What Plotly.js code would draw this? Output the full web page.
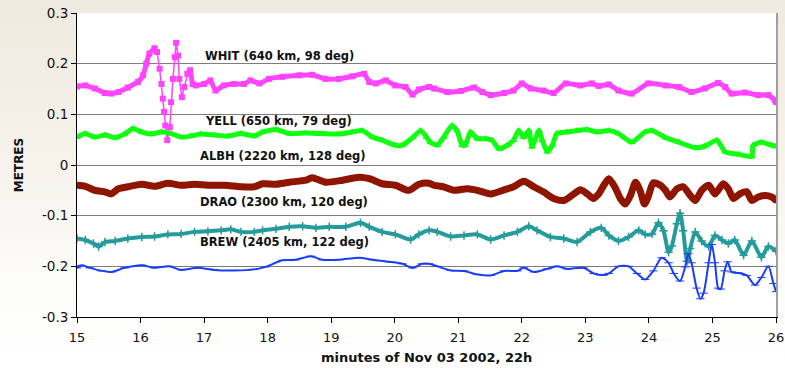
<!DOCTYPE html>
<html>
<head>
<meta charset="utf-8">
<script src="https://cdn.plot.ly/plotly-3.0.1.min.js"></script>
<style>
html,body{margin:0;padding:0;}
body{width:785px;height:368px;background:linear-gradient(to bottom,#efeadf 0%,#f6f3ec 45%,#fdfdfb 80%,#ffffff 100%);}
#chart{width:785px;height:368px;}
</style>
</head>
<body>
<div id="chart"></div>
<script>
// minutes of Nov 03 2002, 22h  /  displacement in metres
const whitT = [15.0,15.13,15.28,15.44,15.54,15.65,15.8,15.96,16.04,16.09,16.14,16.22,16.26,16.3,16.33,16.35,16.37,16.39,16.42,16.46,16.48,16.51,16.54,16.56,16.59,16.61,16.65,16.69,16.74,16.78,16.82,16.87,17.0,17.1,17.18,17.31,17.47,17.63,17.73,17.87,18.02,18.23,18.5,18.7,18.91,19.12,19.33,19.52,19.6,19.7,19.86,20.01,20.17,20.28,20.38,20.54,20.62,20.83,21.04,21.25,21.38,21.51,21.72,21.87,22.0,22.14,22.34,22.5,22.69,22.92,23.1,23.21,23.37,23.52,23.73,23.99,24.26,24.47,24.67,24.88,25.09,25.2,25.3,25.51,25.72,25.88,25.98,26.0];
const whitV = [0.155,0.157,0.151,0.142,0.141,0.144,0.153,0.164,0.177,0.2,0.22,0.23,0.223,0.19,0.16,0.131,0.105,0.078,0.049,0.075,0.124,0.17,0.213,0.241,0.216,0.17,0.134,0.154,0.18,0.187,0.16,0.157,0.16,0.167,0.147,0.157,0.16,0.16,0.167,0.161,0.17,0.174,0.177,0.178,0.17,0.17,0.175,0.18,0.164,0.161,0.167,0.157,0.154,0.139,0.149,0.154,0.151,0.144,0.146,0.153,0.144,0.138,0.142,0.147,0.161,0.151,0.147,0.142,0.161,0.157,0.161,0.156,0.159,0.147,0.141,0.161,0.157,0.154,0.144,0.151,0.162,0.154,0.141,0.143,0.138,0.138,0.128,0.124];

const yellT = [15.0,15.13,15.28,15.44,15.6,15.75,15.88,16.02,16.17,16.33,16.48,16.64,16.79,16.95,17.16,17.37,17.58,17.79,17.92,18.13,18.34,18.6,18.86,19.12,19.33,19.49,19.65,19.8,20.01,20.12,20.28,20.41,20.5,20.56,20.67,20.77,20.9,20.98,21.06,21.11,21.19,21.3,21.43,21.53,21.64,21.77,21.87,21.95,22.03,22.11,22.16,22.27,22.32,22.4,22.48,22.55,22.71,22.87,23.03,23.18,23.37,23.52,23.73,23.94,24.05,24.26,24.47,24.73,24.88,25.07,25.2,25.41,25.62,25.64,25.77,25.93,26.0];
const yellV = [0.055,0.062,0.055,0.059,0.054,0.061,0.072,0.065,0.061,0.065,0.062,0.055,0.057,0.061,0.059,0.057,0.062,0.057,0.065,0.07,0.062,0.063,0.062,0.061,0.065,0.068,0.055,0.049,0.039,0.039,0.054,0.068,0.055,0.045,0.039,0.055,0.078,0.068,0.039,0.039,0.065,0.052,0.052,0.049,0.032,0.039,0.049,0.068,0.055,0.068,0.036,0.068,0.049,0.026,0.039,0.062,0.065,0.068,0.07,0.065,0.068,0.062,0.045,0.065,0.068,0.054,0.045,0.034,0.037,0.049,0.026,0.021,0.017,0.039,0.045,0.039,0.037];

const albhT = [15.0,15.13,15.28,15.44,15.54,15.65,15.8,16.02,16.22,16.43,16.64,16.85,17.06,17.32,17.58,17.79,17.92,18.13,18.34,18.6,18.7,18.91,19.18,19.44,19.6,19.8,20.01,20.22,20.38,20.54,20.62,20.77,20.93,21.14,21.3,21.51,21.72,21.87,22.03,22.19,22.34,22.5,22.66,22.82,22.92,23.03,23.13,23.21,23.29,23.37,23.47,23.55,23.63,23.71,23.79,23.86,23.93,23.99,24.07,24.18,24.26,24.33,24.44,24.54,24.65,24.73,24.83,24.94,25.04,25.17,25.25,25.33,25.43,25.54,25.62,25.72,25.83,25.93,26.0];
const albhV = [-0.04,-0.042,-0.05,-0.053,-0.057,-0.047,-0.043,-0.038,-0.042,-0.036,-0.04,-0.038,-0.04,-0.04,-0.043,-0.043,-0.037,-0.038,-0.034,-0.03,-0.025,-0.034,-0.03,-0.024,-0.027,-0.037,-0.04,-0.05,-0.038,-0.036,-0.04,-0.043,-0.05,-0.047,-0.05,-0.057,-0.049,-0.043,-0.032,-0.043,-0.053,-0.066,-0.07,-0.057,-0.049,-0.057,-0.066,-0.057,-0.04,-0.027,-0.045,-0.066,-0.077,-0.06,-0.034,-0.05,-0.077,-0.062,-0.035,-0.04,-0.05,-0.063,-0.047,-0.043,-0.06,-0.07,-0.05,-0.04,-0.057,-0.037,-0.047,-0.066,-0.057,-0.053,-0.07,-0.063,-0.06,-0.063,-0.07];

const draoT = [15.0,15.13,15.26,15.34,15.44,15.6,15.8,16.02,16.22,16.43,16.64,16.85,17.06,17.27,17.42,17.58,17.79,17.92,18.13,18.34,18.55,18.76,18.97,19.23,19.46,19.6,19.8,20.01,20.25,20.38,20.54,20.67,20.88,21.09,21.3,21.51,21.72,21.93,22.11,22.24,22.45,22.66,22.87,23.08,23.25,23.37,23.52,23.68,23.84,23.94,24.05,24.15,24.23,24.31,24.36,24.44,24.49,24.54,24.6,24.65,24.73,24.83,24.94,25.04,25.15,25.25,25.35,25.49,25.62,25.77,25.88,26.0];
const draoV = [-0.145,-0.148,-0.155,-0.161,-0.152,-0.15,-0.145,-0.142,-0.141,-0.137,-0.136,-0.132,-0.131,-0.129,-0.127,-0.132,-0.132,-0.129,-0.126,-0.122,-0.121,-0.124,-0.122,-0.122,-0.114,-0.122,-0.132,-0.137,-0.147,-0.137,-0.129,-0.132,-0.141,-0.139,-0.137,-0.147,-0.139,-0.132,-0.121,-0.129,-0.142,-0.145,-0.152,-0.132,-0.124,-0.139,-0.15,-0.142,-0.129,-0.137,-0.136,-0.114,-0.13,-0.172,-0.16,-0.116,-0.095,-0.13,-0.19,-0.165,-0.132,-0.15,-0.161,-0.139,-0.148,-0.155,-0.148,-0.178,-0.15,-0.182,-0.161,-0.17];

const brewT = [15.0,15.07,15.2,15.39,15.54,15.75,16.02,16.22,16.45,16.64,16.9,17.16,17.47,17.79,17.97,18.23,18.44,18.68,18.86,19.12,19.44,19.65,19.91,20.12,20.28,20.43,20.54,20.67,20.88,21.09,21.3,21.51,21.72,21.93,22.03,22.19,22.4,22.55,22.71,22.97,23.13,23.29,23.37,23.52,23.68,23.81,23.94,24.07,24.2,24.31,24.39,24.49,24.57,24.62,24.67,24.75,24.81,24.86,24.94,24.99,25.04,25.09,25.13,25.19,25.24,25.3,25.41,25.54,25.67,25.77,25.88,25.96,26.0];
const brewV = [-0.203,-0.198,-0.203,-0.209,-0.211,-0.203,-0.198,-0.203,-0.2,-0.207,-0.203,-0.207,-0.208,-0.206,-0.201,-0.188,-0.187,-0.18,-0.187,-0.187,-0.183,-0.187,-0.191,-0.195,-0.203,-0.195,-0.195,-0.2,-0.208,-0.209,-0.216,-0.218,-0.209,-0.209,-0.203,-0.211,-0.205,-0.2,-0.205,-0.203,-0.214,-0.217,-0.214,-0.2,-0.2,-0.214,-0.226,-0.209,-0.183,-0.193,-0.214,-0.229,-0.201,-0.175,-0.193,-0.243,-0.264,-0.253,-0.193,-0.157,-0.193,-0.243,-0.245,-0.209,-0.191,-0.211,-0.213,-0.218,-0.237,-0.222,-0.2,-0.234,-0.25];

const stationLabels = ["WHIT (640 km, 98 deg)","YELL (650 km, 79 deg)","ALBH (2220 km, 128 deg)","DRAO (2300 km, 120 deg)","BREW (2405 km, 122 deg)"];
const labelX = [16.98,16.98,16.91,16.91,16.91];
const labelY = [0.215,0.086,0.018,-0.073,-0.152];

const yTicks = [-0.3,-0.2,-0.1,0,0.1,0.2,0.3];
const yTickText = ["-0.3","-0.2","-0.1","0","0.1","0.2","0.3"];
const xTicks = [15,16,17,18,19,20,21,22,23,24,25,26];

// the sharp WHIT spike is drawn with a thin connector, as in the source
const whitSpikeStart = 16.24, whitSpikeEnd = 16.7;

const FONT = "'DejaVu Sans', Arial, sans-serif";

const inSpike = t => t > whitSpikeStart && t < whitSpikeEnd;
const whitBulkV = whitV.map((v,i)=> inSpike(whitT[i]) ? null : v);
const spikeIdx = whitT.map((t,i)=>i).filter(i => whitT[i] >= 16.22 && whitT[i] <= 16.74);

const traces = [
  {x:whitT,y:whitBulkV,name:"WHIT",mode:"lines+markers",connectgaps:false,line:{color:"#ff44ff",width:5,shape:"spline",smoothing:0.5},marker:{symbol:"square",size:6,color:"#ff44ff"}},
  {x:spikeIdx.map(i=>whitT[i]),y:spikeIdx.map(i=>whitV[i]),name:"WHIT",mode:"lines+markers",line:{color:"#ff44ff",width:1.5},marker:{symbol:"square",size:6,color:"#ff44ff"}},
  {x:yellT,y:yellV,name:"YELL",mode:"lines+markers",line:{color:"#11ff11",width:5,shape:"spline",smoothing:0.5},marker:{symbol:"triangle-up",size:7,color:"#11ff11"}},
  {x:albhT,y:albhV,name:"ALBH",mode:"lines+markers",line:{color:"#8f1500",width:7,shape:"spline",smoothing:0.7},marker:{symbol:"circle",size:6,color:"#8f1500"}},
  {x:draoT,y:draoV,name:"DRAO",mode:"lines+markers",line:{color:"#259b9b",width:4,shape:"spline",smoothing:0.7},marker:{symbol:"cross-thin-open",size:6,color:"#259b9b",line:{color:"#259b9b",width:1.5}}},
  {x:brewT,y:brewV,name:"BREW",mode:"lines+markers",line:{color:"#1a3cff",width:2,shape:"spline",smoothing:0.7},marker:{symbol:"line-ew-open",size:6,color:"#1a3cff",line:{color:"#1a3cff",width:1}}}
];

const annotations = stationLabels.map((s,i)=>({
  x:labelX[i], y:labelY[i], xref:"x", yref:"y", text:"<b>"+s+"</b>",
  showarrow:false, xanchor:"left", yanchor:"middle",
  font:{family:FONT,size:11.5,color:"#111"}
}));
annotations.push({xref:"paper",yref:"paper",x:0.5,y:-0.1316,xanchor:"center",yanchor:"middle",showarrow:false,
  text:"<b>minutes of Nov 03 2002, 22h</b>",font:{family:FONT,size:13,color:"#111"}});
annotations.push({xref:"paper",yref:"paper",x:-0.0827,y:0.5,xanchor:"center",yanchor:"middle",showarrow:false,textangle:-90,
  text:"<b>METRES</b>",font:{family:FONT,size:12,color:"#111"}});

const layout = {
  width:785, height:368,
  margin:{l:77,r:9,t:13,b:51,pad:0},
  paper_bgcolor:"rgba(0,0,0,0)",
  plot_bgcolor:"#ffffff",
  showlegend:false,
  font:{family:FONT,size:13,color:"#111"},
  xaxis:{range:[15,26],tickvals:xTicks,ticks:"outside",ticklen:5,tickcolor:"#000",showline:true,linecolor:"#000",linewidth:1,
    showgrid:false,zeroline:false,tickfont:{family:FONT,size:13,color:"#111"},ticklabelstandoff:3,fixedrange:true},
  yaxis:{range:[-0.3,0.3],tickvals:yTicks,ticktext:yTickText,ticks:"outside",ticklen:5,tickcolor:"#000",showline:true,linecolor:"#000",linewidth:1,
    showgrid:true,gridcolor:"#7d7d7d",gridwidth:1,zeroline:false,tickfont:{family:FONT,size:13.5,color:"#111"},fixedrange:true},
  yaxis2:{range:[-0.3,0.3],overlaying:"y",side:"right",showline:true,linecolor:"#a0a0a0",linewidth:1.5,showgrid:false,zeroline:false,
    showticklabels:false,ticks:"",fixedrange:true},
  annotations:annotations
};

traces.push({x:[15,26],y:[0,0],yaxis:"y2",mode:"lines",line:{width:0,color:"rgba(0,0,0,0)"},hoverinfo:"skip",showlegend:false});

Plotly.newPlot("chart",traces,layout,{displayModeBar:false,staticPlot:true});
</script>
</body>
</html>
